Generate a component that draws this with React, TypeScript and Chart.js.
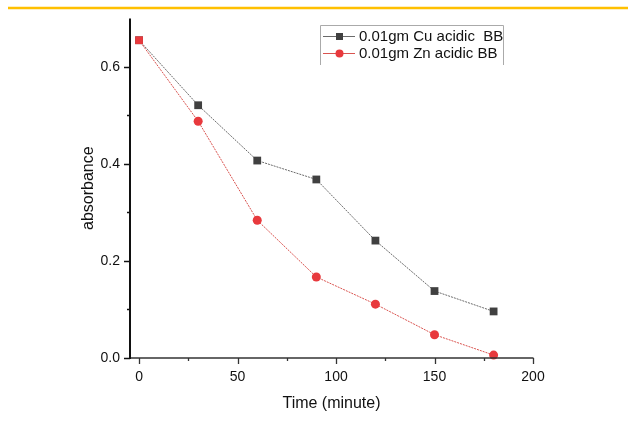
import React, { useEffect, useRef } from "react";
import { Chart, registerables } from "chart.js";

Chart.register(...registerables);

// Sampling times (minutes)
const times = [0, 30, 60, 90, 120, 150, 180];
// Absorbance readings
const cuAbsorbance = [0.655, 0.521, 0.407, 0.368, 0.242, 0.138, 0.096];
const znAbsorbance = [0.655, 0.488, 0.284, 0.167, 0.111, 0.048, 0.006];

const seriesNames = ["0.01gm Cu acidic  BB", "0.01gm Zn acidic BB"];
const xMajorTicks = [0, 50, 100, 150, 200];
const xMinorTicks = [25, 75, 125, 175];
const yMajorTicks = [0, 0.2, 0.4, 0.6];
const yMinorTicks = [0.1, 0.3, 0.5];

const FONT = "Arial, 'Liberation Sans', sans-serif";

const framePlugin = {
  id: "frame",
  afterDraw(chart: any) {
    const ctx = chart.ctx;
    const { left, bottom, top } = chart.chartArea;
    const xs = chart.scales.x;
    const ys = chart.scales.y;
    ctx.save();

    // page rule across the top
    ctx.strokeStyle = "#FFC000";
    ctx.lineWidth = 2.5;
    ctx.beginPath();
    ctx.moveTo(8, 8);
    ctx.lineTo(628, 8);
    ctx.stroke();

    // x axis line
    ctx.strokeStyle = "#333";
    ctx.lineWidth = 1.3;
    ctx.beginPath();
    ctx.moveTo(left, bottom);
    ctx.lineTo(xs.getPixelForValue(200) + 0.5, bottom);
    ctx.stroke();

    // x ticks
    for (const v of xMajorTicks) {
      const px = Math.round(xs.getPixelForValue(v)) + 0.5;
      ctx.beginPath();
      ctx.moveTo(px, bottom);
      ctx.lineTo(px, bottom + 6);
      ctx.stroke();
    }
    for (const v of xMinorTicks) {
      const px = Math.round(xs.getPixelForValue(v)) + 0.5;
      ctx.beginPath();
      ctx.moveTo(px, bottom);
      ctx.lineTo(px, bottom + 3);
      ctx.stroke();
    }

    // y axis line
    ctx.strokeStyle = "#111";
    ctx.lineWidth = 2;
    ctx.beginPath();
    ctx.moveTo(left, top);
    ctx.lineTo(left, bottom + 1);
    ctx.stroke();

    // y ticks
    ctx.lineWidth = 1.5;
    for (const v of yMajorTicks) {
      const py = Math.round(ys.getPixelForValue(v)) + 0.5;
      ctx.beginPath();
      ctx.moveTo(left - 6, py);
      ctx.lineTo(left, py);
      ctx.stroke();
    }
    for (const v of yMinorTicks) {
      const py = Math.round(ys.getPixelForValue(v)) + 0.5;
      ctx.beginPath();
      ctx.moveTo(left - 3, py);
      ctx.lineTo(left, py);
      ctx.stroke();
    }

    // legend box
    const bx = 320, by = 25, bw = 183, bh = 40;
    ctx.strokeStyle = "#aaa";
    ctx.lineWidth = 1;
    ctx.beginPath();
    ctx.moveTo(bx + 0.5, by + bh);
    ctx.lineTo(bx + 0.5, by + 0.5);
    ctx.lineTo(bx + bw + 0.5, by + 0.5);
    ctx.lineTo(bx + bw + 0.5, by + bh);
    ctx.stroke();

    const rows = [36, 53];
    chart.data.datasets.forEach((ds: any, i: number) => {
      const y = rows[i];
      ctx.strokeStyle = ds.borderColor;
      ctx.lineWidth = 1;
      ctx.beginPath();
      ctx.moveTo(323, y + 0.5);
      ctx.lineTo(355, y + 0.5);
      ctx.stroke();
      ctx.fillStyle = ds.pointBackgroundColor;
      if (i === 0) {
        ctx.fillRect(336, y - 3, 7, 7);
      } else {
        ctx.beginPath();
        ctx.arc(339.5, y + 0.5, 4, 0, Math.PI * 2);
        ctx.fill();
      }
      ctx.fillStyle = "#111";
      ctx.font = `15px ${FONT}`;
      ctx.textBaseline = "middle";
      ctx.textAlign = "left";
      ctx.fillText(ds.label, 359, y + 1);
    });

    ctx.restore();
  },
};

export default function App() {
  const ref = useRef<HTMLCanvasElement | null>(null);

  useEffect(() => {
    document.body.style.margin = "0";
    const canvas = ref.current;
    if (!canvas) return;
    const chart = new Chart(canvas, {
      type: "line",
      data: {
        datasets: [
          {
            label: seriesNames[0],
            data: times.map((t, i) => ({ x: t, y: cuAbsorbance[i] })),
            order: 2,
            borderColor: "#6a6a6a",
            borderWidth: 1,
            borderDash: [2, 1],
            pointStyle: "rect",
            pointRadius: 5.5,
            pointBackgroundColor: "#404040",
            pointBorderColor: "#404040",
            pointBorderWidth: 0,
          },
          {
            label: seriesNames[1],
            data: times.map((t, i) => ({ x: t, y: znAbsorbance[i] })),
            order: 1,
            borderColor: "#d9534f",
            borderWidth: 1,
            borderDash: [2, 1],
            pointStyle: times.map((_, i) => (i === 0 ? "rect" : "circle")) as any,
            pointRadius: times.map((_, i) => (i === 0 ? 5.5 : 4.5)) as any,
            pointBackgroundColor: "#e8393d",
            pointBorderColor: "#e8393d",
            pointBorderWidth: 0,
          },
        ],
      },
      options: {
        animation: false,
        responsive: false,
        clip: false as any,
        layout: { padding: { left: 79, right: 103, top: 14, bottom: 0 } },
        plugins: {
          legend: { display: false },
          tooltip: { enabled: false },
        },
        scales: {
          x: {
            type: "linear",
            min: -4.6,
            max: 200,
            afterFit: (s: any) => {
              s.height = 63;
            },
            afterBuildTicks: (s: any) => {
              s.ticks = xMajorTicks.map((v) => ({ value: v }));
            },
            grid: { display: false, drawTicks: false },
            border: { display: false },
            ticks: {
              color: "#111",
              font: { family: FONT, size: 14 },
              padding: 11,
              maxRotation: 0,
            },
            title: {
              display: true,
              text: "Time (minute)",
              color: "#111",
              font: { family: FONT, size: 16 },
              padding: { top: 0, bottom: 8 },
            },
          },
          y: {
            type: "linear",
            min: 0,
            max: 0.7,
            afterFit: (s: any) => {
              s.width = 51;
            },
            afterBuildTicks: (s: any) => {
              s.ticks = yMajorTicks.map((v) => ({ value: v }));
            },
            grid: { display: false, drawTicks: false },
            border: { display: false },
            ticks: {
              color: "#111",
              font: { family: FONT, size: 14 },
              padding: 10,
              callback: (v: any) => Number(v).toFixed(1),
            },
            title: {
              display: true,
              text: "absorbance",
              color: "#111",
              font: { family: FONT, size: 16 },
              padding: { top: 0, bottom: 0 },
            },
          },
        },
      },
      plugins: [framePlugin],
    });
    return () => chart.destroy();
  }, []);

  return (
    <div style={{ position: "absolute", left: 0, top: 0, width: 636, height: 421, background: "#fff" }}>
      <canvas ref={ref} width={636} height={421} style={{ width: 636, height: 421 }} />
    </div>
  );
}
